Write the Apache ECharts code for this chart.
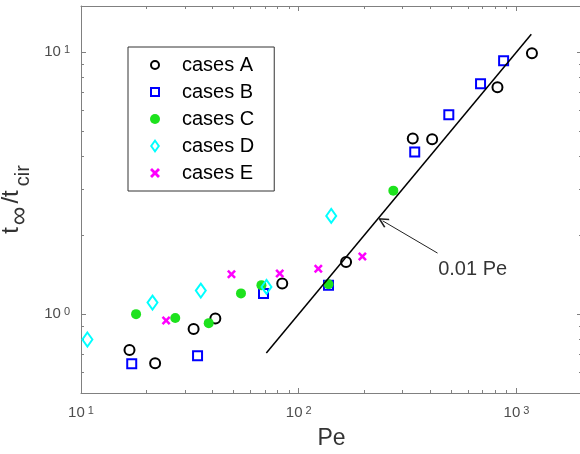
<!DOCTYPE html>
<html>
<head>
<meta charset="utf-8">
<script src="https://cdn.jsdelivr.net/npm/echarts@6/dist/echarts.min.js"></script>
<style>
  html, body { margin: 0; padding: 0; background: #fff; }
  #chart { width: 580px; height: 454px; }
</style>
</head>
<body>
<div id="chart"></div>
<script>
// data: [Pe, t_inf / t_cir]
var casesA = [[16.7, 0.73], [21.9, 0.65], [32.9, 0.877], [41.4, 0.962], [84, 1.31], [165, 1.58], [334, 4.68], [410, 4.65], [818, 7.35], [1178, 9.91]];
var casesB = [[17.1, 0.646], [34.3, 0.693], [68.9, 1.2], [137, 1.29], [341, 4.16], [489, 5.77], [684, 7.57], [873, 9.27]];
var casesC = [[17.9, 1.0], [27.1, 0.966], [38.6, 0.924], [54.3, 1.2], [67.4, 1.29], [137, 1.30], [272, 2.96]];
var casesD = [[10.7, 0.80], [21.3, 1.107], [35.5, 1.23], [71.1, 1.27], [141, 2.37]];
var casesE = [[24.6, 0.946], [49.1, 1.42], [81.8, 1.43], [123, 1.49], [196, 1.66]];

// 0.01 Pe reference line (end points) and its annotation
var fitLine = [[71, 0.71], [1170, 11.7]];
var arrowFrom = [434, 1.71];
var arrowTo = [243, 2.27];
var notePos = [437, 1.48];
var noteText = '0.01 Pe';

// ticks
var xMajor = [10, 100, 1000];
var xMinor = [20, 30, 40, 50, 60, 70, 80, 90, 200, 300, 400, 500, 600, 700, 800, 900, 2000];
var yMajor = [1, 10];
var yMinor = [0.5, 0.6, 0.7, 0.8, 0.9, 2, 3, 4, 5, 6, 7, 8, 9];

var chart = echarts.init(document.getElementById('chart'));

var axisGray = '#808080';
var labelGray = '#4d4d4d';
var font = 'Arial, Liberation Sans, sans-serif';

function powLabel(v) {
    return '{b|10}{s|' + Math.round(Math.log10(v)) + '}';
}
var powRich = {
    b: { fontSize: 15, color: labelGray, fontFamily: font, verticalAlign: 'bottom' },
    s: { fontSize: 11, color: labelGray, fontFamily: font, verticalAlign: 'top', padding: [0, 0, 0, 3] }
};

function logAxis(pos, min, max, ticks, len, showLine, labels) {
    return {
        type: 'log', logBase: 10, position: pos, min: min, max: max,
        splitLine: { show: false },
        axisLine: { show: showLine, onZero: false, lineStyle: { color: axisGray, width: 1 } },
        axisTick: { show: true, inside: true, length: len, customValues: ticks, lineStyle: { color: axisGray, width: 1 } },
        axisLabel: labels ? {
            show: true, customValues: labels, formatter: powLabel, rich: powRich
        } : { show: false }
    };
}

var xAxes = [
    logAxis('bottom', 10, 2000, xMajor, 5, true, xMajor),
    logAxis('top', 10, 2000, xMajor, 5, true, null),
    logAxis('bottom', 10, 2000, xMinor, 3, false, null),
    logAxis('top', 10, 2000, xMinor, 3, false, null)
];
xAxes[0].name = 'Pe';
xAxes[0].nameLocation = 'middle';
xAxes[0].nameGap = 34;
xAxes[0].nameTextStyle = { fontSize: 23, color: '#333', fontFamily: font };
xAxes[0].axisLabel.margin = 12;

var yAxes = [
    logAxis('left', 0.5, 15, yMajor, 5, true, yMajor),
    logAxis('right', 0.5, 15, yMajor, 5, true, null),
    logAxis('left', 0.5, 15, yMinor, 3, false, null),
    logAxis('right', 0.5, 15, yMinor, 3, false, null)
];
yAxes[0].name = '{t|t}{inf|∞}{t|/t}{s|cir}';
yAxes[0].nameLocation = 'middle';
yAxes[0].nameRotate = 90;
yAxes[0].nameGap = 48;
yAxes[0].nameTextStyle = {
    rich: {
        t: { fontSize: 24, color: '#333', fontFamily: font, verticalAlign: 'top', padding: [0, 2, 0, 0] },
        inf: { fontSize: 26, color: '#333', fontFamily: font, verticalAlign: 'bottom', padding: [8, 3, 0, 0] },
        s: { fontSize: 20, color: '#333', fontFamily: font, verticalAlign: 'bottom', padding: [8, 0, 0, 2] }
    }
};
yAxes[0].axisLabel.margin = 11;

var xPath = 'path://M0,2L2,0L5,3L8,0L10,2L7,5L10,8L8,10L5,7L2,10L0,8L3,5Z';
var chevron = 'path://M5,0L10,9L8.8,10L5,3.2L1.2,10L0,9Z';
// legend icons drawn as filled outlines so their strokes look as bold as the plot markers
var ringIcon = 'path://M5,0A5,5 0 1,1 5,10A5,5 0 1,1 5,0ZM5,2A3,3 0 1,0 5,8A3,3 0 1,0 5,2Z';
var squareIcon = 'path://M0,0L10,0L10,10L0,10ZM2,2L2,8L8,8L8,2Z';
var diamondIcon = 'path://M5,0L10,7L5,14L0,7ZM5,3.2L2.3,7L5,10.8L7.7,7Z';

var option = {
    animation: false,
    backgroundColor: '#fff',
    grid: { left: 81, top: 6, width: 501, height: 387, outerBoundsMode: 'none', containLabel: false },
    xAxis: xAxes,
    yAxis: yAxes,
    legend: {
        data: [
            { name: 'cases A', icon: ringIcon, itemStyle: { color: '#000', borderWidth: 0 } },
            { name: 'cases B', icon: squareIcon, itemStyle: { color: '#0000ff', borderWidth: 0 } },
            { name: 'cases C', icon: 'circle' },
            { name: 'cases D', icon: diamondIcon, itemStyle: { color: '#00ffff', borderWidth: 0 } },
            { name: 'cases E', icon: xPath }
        ],
        orient: 'vertical',
        left: 128, top: 47,
        padding: [8, 20, 8, 22],
        itemGap: 7,
        itemWidth: 10, itemHeight: 14,
        borderColor: '#333', borderWidth: 1, borderRadius: 0,
        backgroundColor: '#fff',
        textStyle: { fontSize: 20, color: '#000', fontFamily: font, lineHeight: 20, padding: [0, 0, 0, 17] }
    },
    series: [
        {
            name: 'cases A', type: 'scatter', data: casesA,
            symbol: 'circle', symbolSize: 10,
            itemStyle: { color: 'rgba(0,0,0,0)', borderColor: '#000', borderWidth: 2, opacity: 1 }
        },
        {
            name: 'cases B', type: 'scatter', data: casesB,
            symbol: 'rect', symbolSize: 9,
            itemStyle: { color: 'rgba(0,0,0,0)', borderColor: '#0000ff', borderWidth: 2, opacity: 1 }
        },
        {
            name: 'cases C', type: 'scatter', data: casesC,
            symbol: 'circle', symbolSize: 10,
            itemStyle: { color: '#1de21d', opacity: 1 }
        },
        {
            name: 'cases D', type: 'scatter', data: casesD,
            symbol: 'diamond', symbolSize: [10, 14],
            itemStyle: { color: 'rgba(0,0,0,0)', borderColor: '#00ffff', borderWidth: 2, opacity: 1 }
        },
        {
            name: 'cases E', type: 'scatter', data: casesE,
            symbol: xPath, symbolSize: 9,
            itemStyle: { color: '#ff00ff', opacity: 1 }
        },
        {
            name: 'fit', type: 'line', data: fitLine,
            symbol: 'none', silent: true,
            lineStyle: { color: '#000', width: 1.5 },
            markLine: {
                silent: true,
                symbol: ['none', chevron],
                symbolSize: [10, 11],
                lineStyle: { color: '#222', width: 1, type: 'solid' },
                label: { show: false },
                data: [[{ coord: arrowFrom }, { coord: arrowTo }]]
            }
        },
        {
            name: 'note', type: 'scatter', data: [notePos],
            symbolSize: 0, silent: true,
            label: {
                show: true, position: 'right', distance: 0,
                formatter: noteText,
                fontSize: 20, color: '#000', fontFamily: font
            }
        }
    ]
};

chart.setOption(option);
</script>
</body>
</html>
